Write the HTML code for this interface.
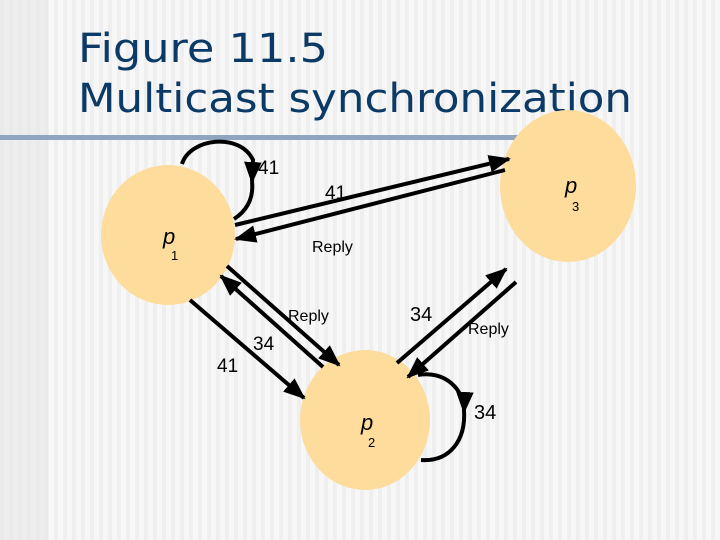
<!DOCTYPE html>
<html><head><meta charset="utf-8"><style>
html,body{margin:0;padding:0}
body{width:720px;height:540px;overflow:hidden;background:#f3f3f3;
background-image:repeating-linear-gradient(90deg,#efefef 0 4px,#f7f7f7 4px 9px);}
</style></head><body>
<svg width="720" height="540" viewBox="0 0 720 540" xmlns="http://www.w3.org/2000/svg" style="position:absolute;left:0;top:0">
<defs>
<marker id="a" markerWidth="5.5" markerHeight="4.4" refX="5" refY="2.2" orient="auto" markerUnits="strokeWidth">
<path d="M0,0 L5.5,2.2 L0,4.4 z" fill="#000"/></marker>
</defs>
<rect x="0" y="0" width="48" height="540" fill="#e6e6e6" opacity="0.6"/>
<rect x="0" y="135" width="520" height="5" fill="#8ea6c0"/>
<g font-family="'DejaVu Sans','Liberation Sans',sans-serif" fill="#0b3a66" font-size="40">
<text x="78" y="62" textLength="250" lengthAdjust="spacingAndGlyphs">Figure 11.5</text>
<text x="78" y="112" textLength="554" lengthAdjust="spacingAndGlyphs">Multicast synchronization</text>
</g>
<g fill="#fedc9b">
<ellipse cx="168" cy="235" rx="67" ry="70"/>
<ellipse cx="568" cy="186" rx="68" ry="76"/>
<ellipse cx="365" cy="420" rx="65" ry="70"/>
</g>
<g stroke="#000" stroke-width="4" fill="none" marker-end="url(#a)">
<path d="M182,164 C190,138 240,132 253,160 L252,182"/>
<path d="M252,182 C254,200 245,212 234,219" marker-end="none"/>
<line x1="235" y1="225" x2="509" y2="159"/>
<line x1="505" y1="170" x2="236" y2="239"/>
<line x1="190" y1="300" x2="304" y2="398"/>
<line x1="323" y1="367" x2="221" y2="276"/>
<line x1="227" y1="266" x2="339" y2="365"/>
<line x1="397" y1="363" x2="506" y2="269"/>
<line x1="516" y1="282" x2="408" y2="377"/>
<path d="M418,375 C445,370 465,390 464,412"/>
<path d="M464,410 C466,440 450,462 421,460" marker-end="none"/>
</g>
<g font-family="'Liberation Sans',Arial,sans-serif" fill="#000">
<text x="258" y="174" font-size="19">41</text>
<text x="325" y="199" font-size="19">41</text>
<text x="312" y="252" font-size="16">Reply</text>
<text x="288" y="321" font-size="16">Reply</text>
<text x="410" y="321" font-size="20">34</text>
<text x="468" y="334" font-size="16">Reply</text>
<text x="253" y="350" font-size="19">34</text>
<text x="217" y="372" font-size="19">41</text>
<text x="474" y="419" font-size="20">34</text>
<text x="163" y="244" font-size="22" font-style="italic">p</text>
<text x="171" y="260" font-size="13">1</text>
<text x="565" y="193" font-size="22" font-style="italic">p</text>
<text x="572" y="211" font-size="13">3</text>
<text x="361" y="430" font-size="22" font-style="italic">p</text>
<text x="368" y="447" font-size="13">2</text>
</g>
</svg>
</body></html>
